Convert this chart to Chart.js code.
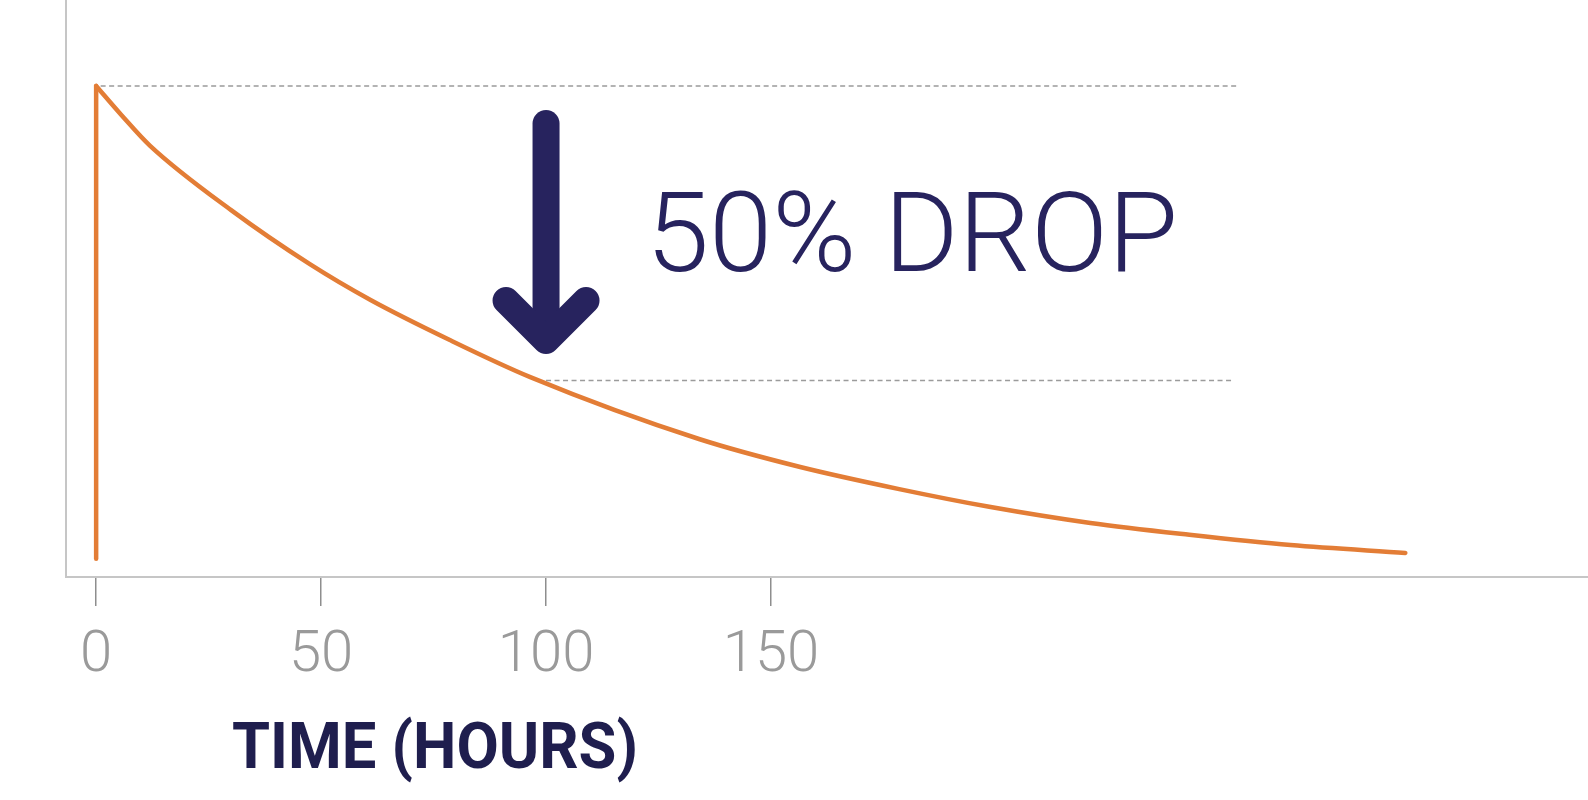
<!DOCTYPE html>
<html>
<head>
<meta charset="utf-8">
<script src="https://cdn.jsdelivr.net/npm/chart.js@4.4.1/dist/chart.umd.min.js"></script>
<style>
  html, body { margin: 0; padding: 0; background: #ffffff; }
  #wrap { width: 1588px; height: 800px; }
</style>
</head>
<body>
<div id="wrap"><canvas id="c" width="1588" height="800"></canvas></div>
<script>
// ---- data ----
const hours = [0, 5.5, 12, 30, 47.5, 61, 78.5, 96.5, 134, 156.5, 178.5, 198.5, 221, 243, 265.5, 291];
const level = [100, 94.2, 87.8, 74.7, 63.7, 56.4, 48.3, 40.7, 28.1, 22.4, 17.9, 14.3, 11.0, 8.6, 6.5, 4.9];
const startHours = [0, 0];
const startLevel = [3.7, 100];
const peakGuideHours = [1, 254];
const peakGuideLevel = [100, 100];
const dropGuideHours = [100, 253];
const dropGuideLevel = [40.0, 40.0];
const xTickValues = [0, 50, 100, 150];
const dropLabel = '50% DROP';
const axisTitle = 'TIME (HOURS)';

const ORANGE = '#E37D36';
const NAVY = '#27235E';
const NAVY_T = '#1F1E4E';
const GUIDE = '#9b9b9b';

const pts = (xs, ys) => xs.map((x, i) => ({ x: x, y: ys[i] }));

const annotations = {
  id: 'annotations',
  afterDraw(chart) {
    const ctx = chart.ctx;
    const xs = chart.scales.x, ys = chart.scales.y;
    ctx.save();
    // arrow
    const ax = xs.getPixelForValue(100);
    const topY = ys.getPixelForValue(95.1) + 13.5;
    const tipY = ys.getPixelForValue(45.4) - 13.5;
    ctx.strokeStyle = NAVY;
    ctx.lineWidth = 27;
    ctx.lineCap = 'round';
    ctx.lineJoin = 'round';
    ctx.beginPath();
    ctx.moveTo(ax, topY);
    ctx.lineTo(ax, tipY - 4);
    ctx.stroke();
    ctx.beginPath();
    ctx.moveTo(ax - 40, tipY - 40);
    ctx.lineTo(ax, tipY);
    ctx.lineTo(ax + 40, tipY - 40);
    ctx.stroke();

    // "50% DROP"
    ctx.fillStyle = NAVY;
    ctx.textBaseline = 'alphabetic';
    ctx.textAlign = 'left';
    ctx.font = '300 111px Roboto, "Open Sans", sans-serif';
    let w = ctx.measureText(dropLabel).width;
    ctx.save();
    ctx.translate(646, 271);
    ctx.scale(532 / w, 1);
    ctx.fillText(dropLabel, 0, 0);
    ctx.restore();

    // axis title
    ctx.fillStyle = NAVY_T;
    ctx.font = 'bold 64px Roboto, "Open Sans", sans-serif';
    w = ctx.measureText(axisTitle).width;
    ctx.save();
    ctx.translate(232, 768);
    ctx.scale(406 / w, 1);
    ctx.fillText(axisTitle, 0, 0);
    ctx.restore();
    ctx.restore();
  }
};

new Chart(document.getElementById('c'), {
  type: 'line',
  data: {
    datasets: [
      {
        data: pts(hours, level),
        borderColor: ORANGE, borderWidth: 4.5, pointRadius: 0,
        cubicInterpolationMode: 'monotone', fill: false,
        borderCapStyle: 'round', borderJoinStyle: 'round'
      },
      {
        data: pts(startHours, startLevel),
        borderColor: ORANGE, borderWidth: 4.5, pointRadius: 0, tension: 0,
        borderCapStyle: 'round', fill: false
      },
      {
        data: pts(peakGuideHours, peakGuideLevel),
        borderColor: GUIDE, borderWidth: 1.5, borderDash: [5, 3.5], pointRadius: 0, fill: false
      },
      {
        data: pts(dropGuideHours, dropGuideLevel),
        borderColor: GUIDE, borderWidth: 1.5, borderDash: [5, 3.5], pointRadius: 0, fill: false
      }
    ]
  },
  options: {
    responsive: false,
    animation: false,
    devicePixelRatio: 1,
    layout: { padding: 0 },
    plugins: { legend: { display: false }, tooltip: { enabled: false } },
    scales: {
      x: {
        type: 'linear',
        min: -6.7,
        max: 331.6,
        afterBuildTicks: (s) => { s.ticks = xTickValues.map(v => ({ value: v })); },
        afterFit: (s) => { s.height = 223; },
        grid: { drawOnChartArea: false, drawTicks: true, tickLength: 29, color: '#8e8e8e', lineWidth: 1.5 },
        border: { color: '#c6c6c6', width: 2 },
        ticks: {
          autoSkip: false, maxRotation: 0, padding: 16,
          color: '#9a9a9a',
          font: { family: 'Roboto, "Open Sans", sans-serif', weight: 300, size: 58 }
        }
      },
      y: {
        min: 0,
        max: 117.5,
        afterFit: (s) => { s.width = 66; },
        grid: { display: false },
        border: { color: '#c6c6c6', width: 2 },
        ticks: { display: false }
      }
    }
  },
  plugins: [annotations]
});
</script>
</body>
</html>
